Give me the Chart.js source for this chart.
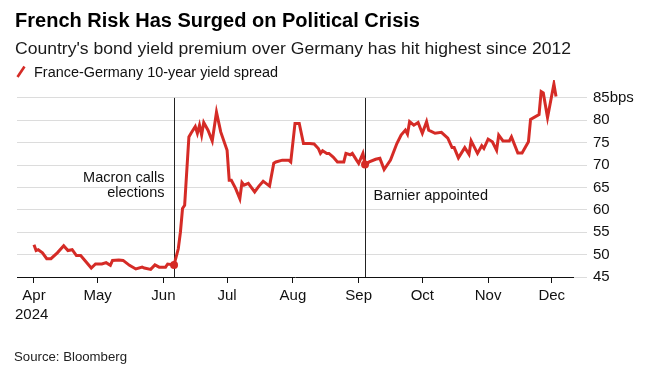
<!DOCTYPE html>
<html>
<head>
<meta charset="utf-8">
<script src="https://cdn.jsdelivr.net/npm/chart.js@4.4.1/dist/chart.umd.min.js"></script>
<style>
  html, body { margin: 0; padding: 0; background: #fff; }
  #wrap { position: relative; width: 651px; height: 376px; overflow: hidden; font-family: "Liberation Sans", Arial, sans-serif; }
  #chart { position: absolute; left: 0; top: 0; }
  .txt { position: absolute; white-space: nowrap; transform-origin: 0 0; color: #111; }
  #title { left: 15px; top: 10.8px; font-size: 19.5px; line-height: 19.5px; font-weight: bold; color: #000; }
  #subtitle { left: 15px; top: 40.3px; font-size: 16.5px; line-height: 16.5px; color: #1a1a1a; }
  #legend { left: 34px; top: 64.8px; font-size: 14px; line-height: 14px; }
  #legendIcon { position: absolute; left: 16px; top: 65px; }
  #year { left: 15px; top: 306.3px; font-size: 15px; line-height: 15px; }
  #source { left: 14px; top: 350px; font-size: 13px; line-height: 13px; color: #222; }
</style>
</head>
<body>
<div id="wrap">
  <canvas id="chart" width="651" height="376"></canvas>
  <div id="title" class="txt fit" data-w="405">French Risk Has Surged on Political Crisis</div>
  <div id="subtitle" class="txt fit" data-w="556">Country's bond yield premium over Germany has hit highest since 2012</div>
  <svg id="legendIcon" width="12" height="14"><line x1="1.5" y1="12" x2="8.5" y2="1.5" stroke="#d52b26" stroke-width="2.6" /></svg>
  <div id="legend" class="txt fit" data-w="244">France-Germany 10-year yield spread</div>
  <div id="year" class="txt">2024</div>
  <div id="source" class="txt fit" data-w="113">Source: Bloomberg</div>
</div>
<script>
// Days since 1 Apr 2024 and the spread in bps
const days = [0, 1, 2, 4, 6, 8, 11, 14, 16, 18, 20, 22, 24, 27, 29, 32, 34, 36, 37, 40,
  42, 45, 48, 51, 52, 55, 57, 59, 62, 63, 66, 68, 69, 70, 71, 73, 74, 76, 77, 78,
  79, 80, 82, 84, 86, 88, 91, 92, 93, 95, 97, 98, 99, 101, 104, 106, 108, 111, 113, 114,
  117, 120, 121, 123, 125, 127, 130, 132, 134, 135, 136, 138, 139, 141, 143, 146, 147, 149, 150, 152,
  153, 155, 156, 158, 161, 163, 165, 168, 171, 173, 175, 176, 177, 179, 181, 183, 185, 186, 189, 192,
  195, 197, 198, 200, 203, 205, 206, 209, 211, 212, 214, 216, 218, 219, 221, 224, 225, 228, 230, 233,
  234, 238, 239, 240, 242, 245, 246];
const spread = [52.2, 50.9, 51.1, 50.4, 49.1, 49.1, 50.4, 52.0, 50.9, 51.1, 49.8, 49.8, 48.7, 47.0, 47.9, 47.9, 48.2, 47.6, 48.7, 48.8,
  48.7, 47.6, 46.8, 47.2, 47.0, 46.7, 47.7, 47.2, 47.2, 47.9, 47.7, 51.3, 55.0, 60.3, 61.0, 76.3, 77.1, 78.6, 77.1, 78.9,
  76.7, 79.5, 77.8, 75.4, 81.8, 77.4, 73.3, 66.6, 66.6, 64.8, 62.5, 66.1, 65.5, 65.9, 64.0, 65.3, 66.4, 65.3, 70.4, 70.7,
  71.1, 71.1, 70.7, 79.3, 79.3, 74.8, 74.8, 74.7, 73.7, 72.6, 73.2, 72.6, 72.6, 71.8, 70.7, 70.7, 72.6, 72.3, 72.6, 71.1,
  70.4, 72.6, 70.1, 70.7, 71.3, 71.5, 69.0, 71.1, 74.8, 76.7, 77.8, 76.9, 79.7, 78.9, 79.5, 77.1, 79.7, 77.8, 77.1, 77.3,
  76.0, 73.9, 73.9, 71.6, 73.9, 72.4, 75.4, 72.6, 74.3, 73.7, 75.8, 75.2, 73.3, 76.7, 75.4, 75.4, 76.3, 72.7, 72.7, 75.2,
  80.2, 81.3, 86.4, 86.1, 80.6, 88.1, 85.3];

// Month ticks (days since 1 Apr) and labels
const monthDays = [0, 30, 61, 91, 122, 153, 183, 214, 244];
const monthLabels = ['Apr', 'May', 'Jun', 'Jul', 'Aug', 'Sep', 'Oct', 'Nov', 'Dec'];
const yTicks = [45, 50, 55, 60, 65, 70, 75, 80, 85];

// Events marked on the chart
const eventDays = [66, 156];
const eventLabels = [['Macron calls', 'elections'], ['Barnier appointed']];

const RED = '#d52b26';
const FONT = '"Liberation Sans", Arial, sans-serif';

// Vertical event lines and their captions
const eventLines = {
  id: 'eventLines',
  beforeDatasetsDraw(chart) {
    const { ctx, chartArea } = chart;
    const x = chart.scales.x;
    const y = chart.scales.y;
    const top = y.getPixelForValue(yTicks[yTicks.length - 1]);
    ctx.save();
    ctx.strokeStyle = '#222';
    ctx.lineWidth = 1;
    ctx.fillStyle = '#111';
    ctx.font = '14.5px ' + FONT;
    ctx.textBaseline = 'middle';
    eventDays.forEach((d, i) => {
      const px = Math.round(x.getPixelForValue(d)) + 0.5;
      ctx.beginPath();
      ctx.moveTo(px, top);
      ctx.lineTo(px, chartArea.bottom);
      ctx.stroke();
      const lines = eventLabels[i];
      if (i === 0) {
        ctx.textAlign = 'right';
        lines.forEach((t, j) => ctx.fillText(t, px - 10, top + 80 + j * 15.5));
      } else {
        ctx.textAlign = 'left';
        lines.forEach((t, j) => ctx.fillText(t, px + 8, top + 98 + j * 15.5));
      }
    });
    ctx.restore();
  }
};

const chart = new Chart(document.getElementById('chart'), {
  type: 'line',
  data: {
    datasets: [{
      label: 'France-Germany 10-year yield spread',
      data: days.map((d, i) => ({ x: d, y: spread[i] })),
      borderColor: RED,
      backgroundColor: RED,
      borderWidth: 3,
      tension: 0,
      pointRadius: c => eventDays.includes(days[c.dataIndex]) ? 4 : 0,
      pointBorderWidth: 0,
      pointHoverRadius: 0
    }]
  },
  options: {
    responsive: false,
    animation: false,
    devicePixelRatio: 1,
    layout: { padding: { left: 17, top: 80, right: 0, bottom: 0 } },
    plugins: {
      legend: { display: false },
      tooltip: { enabled: false }
    },
    scales: {
      x: {
        type: 'linear',
        min: -8,
        max: 254,
        afterBuildTicks: axis => { axis.ticks = monthDays.map(v => ({ value: v })); },
        afterFit: axis => { axis.height = 99; },
        grid: { drawOnChartArea: false, drawTicks: true, tickLength: 6, color: '#111', tickColor: '#111' },
        border: { display: true, color: '#111', width: 1 },
        ticks: {
          autoSkip: false,
          maxRotation: 0,
          padding: 4,
          color: '#111',
          font: { family: FONT, size: 15 },
          callback: (v, i) => monthLabels[i]
        }
      },
      y: {
        position: 'right',
        min: 45,
        max: 89,
        afterBuildTicks: axis => { axis.ticks = yTicks.map(v => ({ value: v })); },
        afterFit: axis => { axis.width = 78; },
        grid: {
          color: c => c.tick && c.tick.value === 45 ? 'rgba(0,0,0,0)' : '#dcdcdc',
          tickColor: '#dcdcdc',
          drawTicks: true,
          tickLength: 14,
          lineWidth: 1
        },
        border: { display: false },
        ticks: {
          padding: 6,
          color: '#111',
          font: { family: FONT, size: 15 },
          callback: v => v === 85 ? '85bps' : v
        }
      }
    }
  },
  plugins: [eventLines]
});

// squeeze header texts to the widths in the reference
document.querySelectorAll('.fit').forEach(el => {
  const w = el.getBoundingClientRect().width;
  el.style.transform = 'scaleX(' + (el.dataset.w / w) + ')';
});
</script>
</body>
</html>
